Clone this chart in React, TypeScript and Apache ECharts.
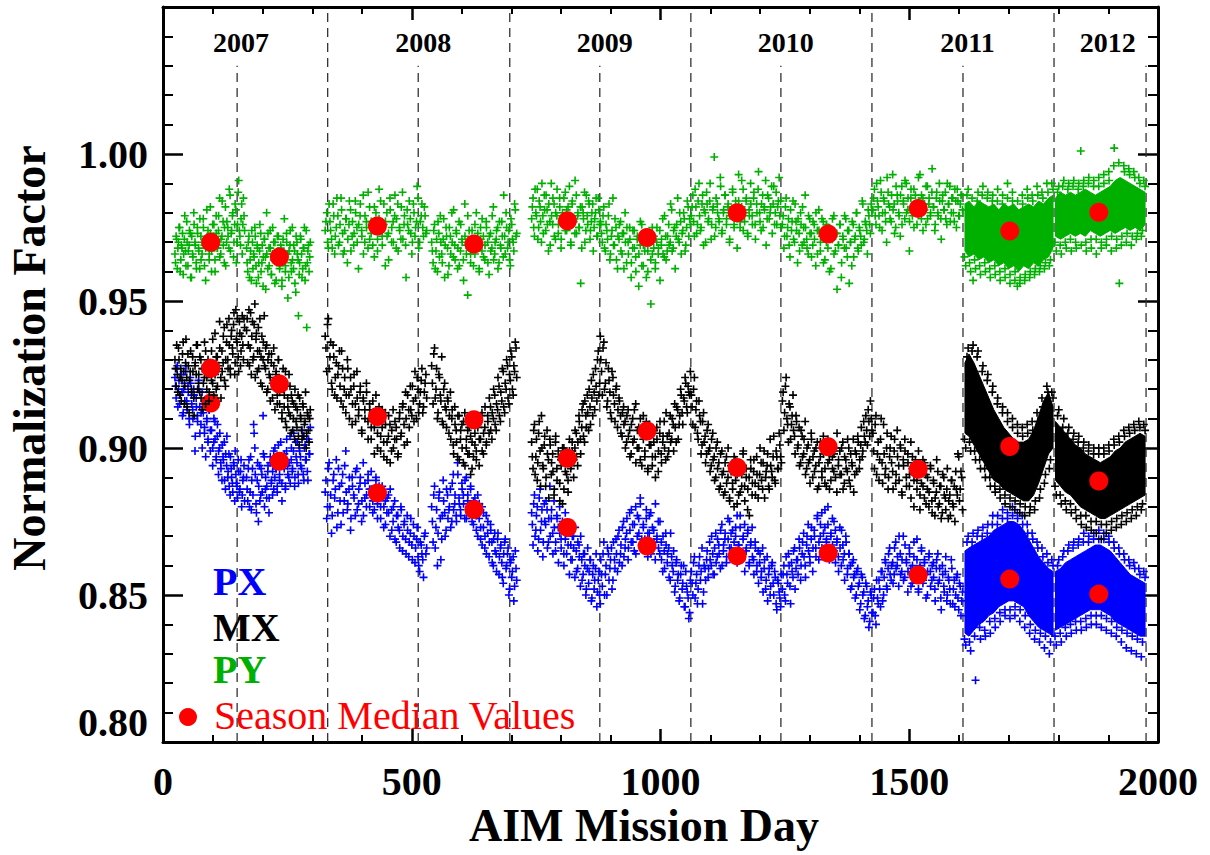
import React, { useEffect, useRef } from "react";
import * as echarts from "echarts";

const FONT = "'Liberation Serif', 'Times New Roman', Times, serif";

// Observation seasons, as AIM mission-day ranges
const seasonSpans: [number, number][] = [
  [24, 164], [168, 296], [326, 530], [540, 711], [741, 879], [880, 1060],
  [1062, 1243], [1245, 1425], [1427, 1607], [1611, 1789], [1793, 1974],
];

// Normalization factor samples per season (thousandths), evenly spread over each season.
// Two sample sets per series; the last two seasons hold the samples around the dense cores.
const pyValues: number[][] = [
  [966,972,961,970,975,964,968,959,971,967,977,962,969,973,958,966,980,970,963,975,968,961,972,966,978,969,957,971,974,964,982,967,970,976,960,973,968,979,965,971,984,969,975,962,977,972,988,967,974,980,970,983,963,976,991,972,978,966,985,974],
  [968,960,972,964,957,970,966,975,962,969,958,967,973,963,955,971,965,980,961,968,974,959,966,970,956,964,972,967,961,969,957,965,978,962,970,951,967,974,960,964,969,956,972,966,945,963,971,958,968,975,962,941,967,960,970],
  [974,980,968,977,971,983,966,975,979,970,985,973,967,978,963,976,981,972,969,984,975,961,979,974,986,970,977,968,982,973,976,965,980,971,988,974,969,983,977,972,964,981,975,970,986,978,967,974,982,971,979,958,976,984,973,970,980,975,989,968,977,983,972,979,974],
  [970,963,976,967,960,973,979,966,971,958,975,968,962,972,980,965,969,974,961,977,967,971,964,983,969,952,974,966,970,962,976,968,973,960,971,978,965,969,975,963,972,967,979,964,970,974,961,977,968,972,986,966,975,970,964,978,971,967,981,973],
  [978,985,972,980,988,975,982,970,979,986,974,981,967,977,990,976,983,971,979,973,985,968,980,976,987,974,982,978,969,984,977,991,973,980,975,956,982,978,970,986,976,983,974,980,967,978,985,972,981,977],
  [976,970,982,967,974,979,964,972,985,969,975,961,971,977,966,973,980,963,970,975,958,968,974,965,971,955,969,976,962,967,973,960,970,949,966,972,963,975,968,957,971,966,979,964,972,969,983,967,974,961,976,971,980,966,974,978,969,984,972,976],
  [979,986,972,982,976,990,974,983,969,980,987,977,984,971,981,999,975,983,978,992,973,980,986,976,982,970,979,988,975,981,968,984,977,991,974,980,985,972,979,983,976,987,971,980,994,977,983,975,981,969,986,978,982,973,989,980,976,984,979,975],
  [976,968,982,972,978,965,974,984,970,977,963,973,980,969,975,986,971,966,978,973,969,976,962,974,981,967,972,977,964,970,975,960,972,978,966,973,954,969,976,963,971,979,968,974,956,970,977,965,972,980,967,974,969,983,971,976,966,979,973,981],
  [981,988,976,984,979,991,974,985,980,970,987,982,977,993,983,975,986,980,972,989,984,978,990,981,967,985,979,988,983,976,992,981,986,974,983,989,978,985,980,995,982,976,987,979,984,971,986,981,978,990,983,977,985,980,988,975,984,979,986,981],
  [965,986,963,985,964,984,962,986,963,985,961,984,962,984,960,983,961,985,959,984,960,984,958,983,959,985,960,984,961,986,962,985,963,987,964,988],
  [970,987,969,989,970,988,971,989,970,988,1001,989,970,990,971,989,971,989,970,990,971,991,972,1002,971,956,972,994,973,993,972,992,973,990,974,989],
];
const pyValuesB: number[][] = [
  [963,971,968,975,960,969,973,966,979,962,970,967,974,958,972,965,976,969,961,973,967,978,964,970,975,962,968,981,971,966,973,960,976,970,964,979,968,974,985,966,972,977,963,982,970,975,968,986,973,979,965,976,981,970,987,974,969,983,976,979],
  [963,970,958,967,974,961,965,972,956,968,963,976,960,969,965,971,954,966,973,962,968,959,975,964,970,957,966,972,962,968,955,971,964,960,973,966,958,969,963,975,961,967,953,970,964,959,972,966,961,968,957,974,963,969,965],
  [977,970,983,974,968,979,972,985,969,976,981,966,974,978,971,984,967,977,973,980,970,976,983,972,966,979,975,987,971,977,969,982,974,967,978,984,972,976,962,980,973,985,970,977,979,968,983,975,971,987,976,969,981,974,978,966,983,972,977,985,970,979,975,982,973],
  [967,974,961,971,977,965,970,963,978,969,972,959,975,966,970,981,964,973,968,962,976,970,957,972,966,979,968,963,974,971,966,980,969,961,975,967,972,964,977,970,959,973,968,982,966,971,975,963,969,977,965,972,980,968,974,962,976,970,983,972],
  [982,975,988,979,971,984,977,990,973,981,986,976,983,969,979,985,972,980,988,976,982,971,978,985,974,981,976,989,970,983,978,973,986,979,975,982,968,980,987,974,979,984,971,977,983,975,980,972,985,976],
  [973,979,968,976,971,983,966,974,969,978,964,972,976,967,973,961,970,975,966,971,963,974,968,960,972,966,977,962,969,973,958,967,971,964,975,968,961,970,966,974,969,978,965,972,967,976,970,981,968,975,972,985,970,977,973,980,967,975,982,978],
  [982,977,988,973,984,979,975,986,981,970,983,978,990,976,982,972,985,980,977,989,974,981,986,978,983,971,980,987,976,984,979,993,975,982,988,977,984,973,981,990,979,985,976,983,988,980,974,986,982,991,978,985,980,989,983,976,987,982,992,984],
  [979,972,985,975,969,981,977,971,983,974,978,967,976,982,970,975,968,979,973,965,977,971,980,966,974,970,978,963,972,976,968,974,961,971,979,967,973,969,976,958,972,968,978,965,974,970,962,976,971,980,968,975,972,984,970,977,974,981,976,983],
  [985,979,990,982,975,987,980,984,977,992,983,978,986,981,973,989,984,979,986,976,983,991,980,985,977,988,982,975,986,980,984,993,978,985,981,976,989,983,979,987,982,974,985,980,990,978,984,981,987,976,983,989,980,985,977,984,988,979,983,986],
  [962,988,960,957,961,987,959,989,960,987,958,986,959,988,957,986,958,990,956,987,957,955,956,986,957,988,958,986,959,989,960,987,961,990,962,990],
  [967,989,966,991,968,990,967,991,968,990,969,991,967,992,968,991,966,992,968,993,969,994,967,996,968,997,969,996,970,995,969,994,971,992,972,991],
];

const mxValues: number[][] = [
  [930,921,925,934,918,927,923,936,915,929,924,932,912,926,920,931,917,928,925,935,922,919,930,913,927,924,933,920,926,916,929,923,937,918,925,931,921,928,934,917,926,938,923,930,942,927,935,925,940,932,946,929,937,944,926,939,933,945,930,941],
  [940,929,947,934,925,943,931,949,937,926,941,933,922,938,930,945,927,935,920,932,924,929,917,934,921,926,915,930,919,923,912,927,918,909,921,914,925,911,918,906,915,920,909,913,904,917,910,903,914,908,919,905,911,902,913],
  [938,926,944,931,922,935,918,929,925,933,916,927,920,912,930,918,924,908,921,915,926,911,919,906,917,913,922,909,915,903,912,907,918,900,910,904,913,897,908,902,911,895,906,900,909,903,898,912,905,915,901,910,918,907,913,921,909,917,924,912,919,927,914,922,917],
  [928,915,934,920,910,925,918,931,908,922,913,917,905,919,910,901,914,906,897,911,903,908,895,912,900,906,898,904,893,909,901,896,907,903,911,899,905,914,902,909,917,906,912,920,908,915,924,911,919,927,914,922,930,917,925,933,920,928,936,924],
  [902,893,908,897,889,905,899,911,894,901,887,906,896,903,891,898,884,902,893,899,888,896,881,900,892,897,885,903,894,899,890,906,897,902,909,898,913,904,916,907,912,920,908,917,925,913,921,930,918,938],
  [930,918,936,922,914,927,919,910,924,915,920,907,917,911,904,914,909,902,913,906,898,910,903,915,900,907,896,905,911,899,904,893,908,901,897,906,890,903,899,909,895,904,900,912,897,905,902,910,899,907,914,903,911,918,908,916,922,912,919,926],
  [918,908,924,913,905,916,909,901,912,904,898,908,900,894,905,897,890,902,895,887,899,892,885,897,890,883,894,888,880,896,891,884,893,887,899,882,890,886,877,893,888,896,884,891,887,900,889,895,883,892,898,886,894,890,904,888,897,893,901,895],
  [916,906,921,910,902,914,908,918,904,911,900,907,895,904,898,909,893,901,896,905,890,899,894,902,887,897,892,904,888,899,895,886,901,893,898,890,905,896,891,900,886,897,893,903,889,898,894,885,899,892,902,896,907,899,904,911,901,909,916,906],
  [905,893,911,898,889,903,895,908,891,900,886,897,904,892,899,888,906,894,901,885,896,903,890,898,887,902,893,880,896,889,899,884,892,887,895,881,890,885,893,878,888,883,896,880,887,876,891,884,879,893,882,877,889,880,875,886,898,882,892,879],
  [903,931,902,933,899,931,896,926,893,923,890,919,887,915,886,912,884,909,883,907,882,905,881,904,880,905,880,906,882,909,886,914,891,919,896,917],
  [887,911,884,907,882,905,881,903,879,902,877,900,877,899,875,898,875,898,874,898,874,899,875,901,876,902,877,904,878,905,879,906,880,907,881,906],
];
const mxValuesB: number[][] = [
  [927,935,919,930,924,916,932,926,921,937,914,928,923,933,919,926,911,929,935,920,925,931,917,927,922,936,915,924,930,919,928,933,922,926,939,920,931,927,943,924,933,929,941,921,936,930,944,927,938,934,942,925,947,936,931,943,928,938,935,944],
  [944,935,928,946,938,930,942,924,939,933,927,944,931,921,936,928,934,919,930,925,916,932,922,928,913,925,918,930,915,922,910,920,914,926,907,917,912,921,905,916,910,903,914,907,918,901,911,906,915,904,909,900,912,906,910],
  [934,942,927,936,920,931,924,917,928,921,933,914,924,918,927,910,920,915,925,909,917,913,921,905,916,910,919,903,913,907,916,898,910,905,914,899,907,902,912,896,904,908,899,913,903,907,897,910,904,914,908,919,902,913,921,911,916,926,910,920,915,923,912,919,925],
  [922,932,917,927,912,924,916,909,920,914,907,916,911,903,913,898,908,902,911,896,906,900,909,894,903,898,907,891,902,897,905,899,908,894,903,912,898,907,901,911,905,914,903,910,918,906,913,921,909,916,926,912,920,928,915,923,931,918,926,934],
  [897,906,891,903,895,909,887,900,893,904,890,898,883,901,895,892,886,904,889,897,882,894,900,886,895,891,889,899,893,902,896,900,905,894,911,903,907,915,902,911,918,906,914,923,911,919,927,916,933,922],
  [926,934,920,929,916,923,912,926,918,909,921,913,916,905,912,908,900,911,904,897,908,902,913,895,906,900,910,894,903,897,909,892,901,906,894,902,897,907,892,905,898,902,909,896,904,899,911,903,908,915,902,913,908,920,912,917,924,914,921,918],
  [914,920,907,916,903,911,898,909,902,895,906,899,892,903,896,889,900,893,886,898,891,884,895,888,900,882,892,886,897,889,881,894,885,891,898,887,893,879,890,896,884,892,888,897,883,891,895,886,899,890,894,887,903,892,897,889,899,893,905,897],
  [919,912,924,908,915,903,911,906,898,909,901,894,906,897,903,891,900,895,888,903,897,892,900,886,895,902,890,898,893,887,903,896,889,897,892,900,885,894,899,891,902,888,896,892,900,887,895,903,891,898,904,893,901,897,909,902,906,913,904,910],
  [899,908,891,902,896,910,888,898,893,905,890,900,895,886,903,891,897,889,900,884,894,899,887,895,891,883,897,889,894,886,892,879,888,896,883,891,886,880,894,882,889,877,885,892,881,887,878,890,883,886,876,884,889,881,887,892,884,897,886,890],
  [900,934,899,935,896,933,893,928,890,925,887,921,885,917,883,914,881,912,880,910,879,908,878,907,877,908,878,909,879,912,883,917,888,921,893,919],
  [884,913,881,910,879,907,878,905,876,904,874,902,873,901,872,900,871,900,869,900,871,901,872,903,873,904,874,906,875,907,876,908,877,909,879,908],
];

const pxValues: number[][] = [
  [924,917,928,920,915,925,919,912,922,926,916,921,910,924,918,913,920,899,917,911,923,914,908,919,912,905,916,909,902,913,906,917,900,910,903,896,908,899,905,893,901,896,889,898,904,892,887,897,890,885,894,899,888,883,892,886,896,884,890,882],
  [890,882,896,885,879,893,908,900,881,889,875,894,884,891,911,897,886,883,892,878,895,888,884,899,890,893,885,901,889,896,882,894,898,887,903,891,895,888,900,893,905,890,897,902,888,899,894,906,891,900,896,903,889,898,907],
  [885,876,893,880,871,889,883,896,878,887,874,891,882,899,879,886,872,890,884,877,893,881,888,875,895,883,880,889,886,892,878,884,890,881,887,876,885,880,874,883,878,886,872,880,869,877,873,866,879,870,875,864,872,868,876,862,870,866,873,860,868,864,856,871,866],
  [880,868,887,873,860,883,876,869,889,878,872,884,879,886,875,891,881,877,895,883,879,888,884,876,890,882,878,886,880,874,883,877,870,881,873,867,878,870,864,875,868,872,861,869,865,858,871,863,867,856,864,869,860,866,852,862,858,848,865,855],
  [878,867,884,872,880,869,886,875,863,881,874,879,868,887,876,871,882,865,877,873,880,869,875,864,878,871,867,874,862,870,866,873,858,868,863,870,855,864,860,852,866,858,862,849,860,855,864,851,858,847],
  [862,853,868,857,850,864,859,866,855,862,869,858,872,864,860,875,866,871,862,878,868,874,865,880,870,876,883,869,874,866,879,871,877,864,873,868,881,870,866,875,862,870,859,867,864,856,871,860,865,853,862,857,849,860,854,846,858,851,842,855],
  [858,850,863,854,847,860,855,866,851,859,862,856,868,860,864,857,871,863,867,859,874,865,869,861,876,866,871,863,868,873,861,867,877,864,870,858,866,872,861,868,863,857,866,860,854,864,858,851,862,855,848,859,853,861,850,856,845,854,849,857],
  [852,860,848,857,864,853,861,856,866,859,862,869,855,864,871,860,867,874,863,869,858,872,866,876,862,870,878,865,873,868,880,864,871,867,875,861,869,858,866,872,862,855,868,859,864,852,861,856,849,858,853,845,857,850,842,854,846,839,851,844],
  [844,852,840,849,855,846,858,850,862,853,859,866,855,861,857,868,860,853,864,858,870,856,862,851,866,859,854,863,857,869,852,860,865,855,861,849,858,864,853,860,856,848,862,854,859,845,857,851,863,850,855,847,859,852,846,856,849,854,843,851],
  [835,868,834,868,836,870,839,870,838,871,841,874,842,874,844,876,845,876,845,877,846,876,845,874,843,871,840,869,838,866,837,863,836,861,834,860],
  [836,860,837,863,839,865,840,866,841,867,841,868,842,868,843,869,843,869,843,869,842,868,841,866,839,864,838,862,837,860,836,859,835,857,834,856],
];
const pxValuesB: number[][] = [
  [921,927,914,923,918,925,911,920,916,928,913,919,908,922,915,910,918,904,914,909,920,905,912,900,915,907,897,910,903,913,899,906,894,902,909,897,904,891,900,895,889,897,902,886,894,890,898,884,893,888,895,882,891,887,896,885,892,880,889,894],
  [886,893,880,897,889,884,905,891,878,895,887,882,893,885,898,880,890,887,894,883,897,889,892,886,900,893,887,896,891,902,888,897,893,886,899,894,890,904,896,892,899,887,902,895,891,900,897,893,904,889,901,896,892,903,898],
  [889,880,895,884,877,891,886,873,893,882,888,878,894,885,881,890,876,887,883,892,879,886,890,882,877,888,884,891,880,886,882,879,889,876,884,880,887,873,882,878,884,870,879,875,882,868,877,872,880,865,874,869,877,863,871,867,874,861,869,863,858,867,862,870,864],
  [875,884,866,879,871,885,862,877,882,870,886,876,880,873,888,879,884,875,891,881,877,886,881,889,876,884,880,887,875,882,879,872,884,876,869,880,873,866,877,871,863,874,868,860,871,864,869,857,866,861,854,868,859,864,850,861,856,863,853,859],
  [874,881,870,877,865,883,872,879,868,875,882,866,876,870,879,864,873,868,876,861,871,866,874,860,869,864,872,857,867,862,870,856,865,859,867,853,862,857,864,850,859,854,862,848,857,852,859,846,855,850],
  [857,864,850,860,866,855,862,852,868,859,864,870,861,867,873,863,869,876,866,872,879,868,874,864,877,871,881,867,873,869,876,863,871,878,866,872,862,869,875,864,868,858,865,871,861,866,855,863,858,851,861,855,848,857,852,860,846,853,849,844],
  [854,861,849,857,852,863,858,847,860,855,865,859,862,870,857,866,861,869,864,872,860,867,871,863,869,875,866,872,864,870,877,867,873,862,869,874,865,871,860,867,873,862,868,858,865,861,856,866,859,852,863,857,850,860,854,858,847,855,851,846],
  [857,850,863,854,860,847,858,865,852,862,857,866,860,868,863,856,870,865,861,873,866,870,863,877,868,874,866,871,879,869,874,862,870,876,865,872,868,863,873,860,867,864,870,857,864,860,853,862,857,850,859,854,847,856,851,843,853,848,841,850],
  [849,843,855,847,852,858,848,856,861,852,864,857,860,854,866,859,863,870,857,862,855,867,861,858,864,853,860,868,856,862,851,859,866,854,862,857,850,863,858,855,861,852,859,864,855,849,860,853,858,848,856,852,862,847,855,850,857,845,853,848],
  [833,870,831,871,821,872,835,873,836,874,837,877,839,877,841,879,843,878,842,880,843,878,841,877,839,874,837,871,835,868,834,866,832,864,830,862],
  [833,862,834,865,836,867,837,868,838,869,838,871,839,870,840,871,840,872,839,871,838,870,837,868,836,866,834,864,832,862,831,861,830,859,829,858],
];

// Dense cores of the 2011 and 2012 seasons (lower / upper edge, thousandths)
const denseKnots: number[][] = [
  [1612,1620,1630,1640,1650,1660,1670,1680,1690,1700,1710,1720,1730,1740,1750,1760,1770,1780,1789],
  [1794,1804,1814,1824,1834,1844,1854,1864,1874,1884,1894,1904,1914,1924,1934,1944,1954,1964,1974],
];
const pyBandLo = [
  [967,965,966,964,965,963,964,962,963,961,962,960,962,961,963,962,964,965,968],
  [972,971,972,973,972,973,972,974,973,972,973,974,973,974,975,974,975,974,976],
];
const pyBandHi = [
  [983,984,982,984,983,982,983,981,983,982,983,981,982,983,982,984,983,985,986],
  [985,987,986,987,986,987,988,987,986,987,988,989,991,992,991,990,989,988,987],
];
const mxBandLo = [
  [905,904,901,898,895,892,889,888,886,885,884,883,882,882,884,888,893,898,900],
  [889,887,885,884,882,880,879,878,877,876,876,877,878,879,880,881,882,883,884],
];
const mxBandHi = [
  [929,932,929,925,921,917,913,910,907,905,903,902,902,903,906,911,916,919,914],
  [909,907,905,903,901,900,898,897,896,895,896,897,899,900,902,903,904,905,904],
];
const pxBandLo = [
  [837,836,838,840,841,843,844,846,847,848,848,847,846,843,841,839,838,837,836],
  [838,839,840,841,842,843,844,845,845,845,844,843,841,840,839,838,837,836,836],
];
const pxBandHi = [
  [865,866,867,868,869,870,872,873,874,875,875,874,872,869,866,863,861,859,858],
  [858,859,861,862,863,864,865,866,867,867,866,865,863,861,859,857,856,855,854],
];

// Season median values
const medianDays = [96, 234, 431, 625, 813, 973, 1154, 1337, 1518, 1702, 1881];
const pyMedian = [0.970, 0.965, 0.9755, 0.9694, 0.9773, 0.9716, 0.980, 0.9728, 0.9815, 0.9738, 0.9802];
const mxMedian = [0.9271, 0.9218, 0.9107, 0.9096, 0.8965, 0.9058, 0.8934, 0.9004, 0.8928, 0.9005, 0.8888];
const pxMedian = [0.9153, 0.8955, 0.8847, 0.8791, 0.873, 0.8667, 0.8633, 0.8643, 0.8568, 0.8554, 0.8503];

// Year markers
const yearNames = ["2007", "2008", "2009", "2010", "2011", "2012"];
const yearLabelDays = [157, 523, 888, 1252, 1617, 1899];
const yearLabelLevel = 1.038;
const fullLineDays = [331, 697, 1061, 1425, 1791];
const shortLineDays = [149, 513, 878, 1242, 1608, 1976];
const shortLineTop = 1.03;

const Y_MIN = 0.8;
const Y_MAX = 1.05;

const BLUE = "#0000ff";
const BLACK = "#000000";
const GREEN = "#00b000";
const RED = "#ff0000";
const PLUS = "path://M2.8,0H4.2V2.8H7V4.2H4.2V7H2.8V4.2H0V2.8H2.8Z";

// Spread each season's samples evenly over its day range; the second set sits half a step later.
function toPoints(values: number[][], half: boolean): number[][] {
  const pts: number[][] = [];
  values.forEach((vals, s) => {
    const [d0, d1] = seasonSpans[s];
    const n = vals.length;
    vals.forEach((v, i) => {
      const day = half ? d0 + ((d1 - d0) * (i + 0.5)) / n : d0 + ((d1 - d0) * i) / (n - 1);
      pts.push([day, v / 1000]);
    });
  });
  return pts;
}

function bandSeries(lo: number[][], hi: number[][], color: string) {
  return {
    type: "custom",
    coordinateSystem: "cartesian2d",
    silent: true,
    clip: true,
    data: denseKnots.map((k, s) => [k[0], lo[s][0] / 1000, s]),
    encode: { x: 0, y: 1 },
    renderItem: (params: any, api: any) => {
      const s = params.dataIndex;
      const top = denseKnots[s].map((d, i) => api.coord([d, hi[s][i] / 1000]));
      const bottom = denseKnots[s].map((d, i) => api.coord([d, lo[s][i] / 1000])).reverse();
      return {
        type: "polygon",
        shape: { points: top.concat(bottom) },
        style: { fill: color, stroke: color, lineWidth: 1 },
      };
    },
  };
}

function cloudSeries(a: number[][], b: number[][], color: string) {
  return {
    type: "scatter",
    silent: true,
    symbol: PLUS,
    symbolSize: 8,
    itemStyle: { color, opacity: 1 },
    data: toPoints(a, false).concat(toPoints(b, true)),
  };
}

function medianSeries(values: number[]) {
  return {
    type: "scatter",
    silent: true,
    symbol: "circle",
    symbolSize: 19,
    itemStyle: { color: RED, opacity: 1 },
    data: medianDays.map((d, i) => [d, values[i]]),
  };
}

const axisLineStyle = { color: "#000", width: 3 };

function xAxisDef(position: "bottom" | "top") {
  return {
    type: "value",
    position,
    min: 0,
    max: 2000,
    interval: 500,
    axisLine: { show: true, onZero: false, lineStyle: axisLineStyle },
    axisTick: { show: true, inside: true, length: 13, lineStyle: { color: "#000", width: 2.5 } },
    minorTick: { show: true, splitNumber: 5, length: 7, lineStyle: { color: "#000", width: 2 } },
    splitLine: { show: false },
    minorSplitLine: { show: false },
    axisLabel: {
      show: position === "bottom",
      margin: 19,
      color: "#000",
      fontFamily: FONT,
      fontWeight: "bold",
      fontSize: 40,
      formatter: (v: number) => String(v),
    },
  };
}

function yAxisDef(position: "left" | "right") {
  return {
    type: "value",
    position,
    min: Y_MIN,
    max: Y_MAX,
    interval: 0.05,
    axisLine: { show: true, onZero: false, lineStyle: axisLineStyle },
    axisTick: { show: true, inside: true, length: 20, lineStyle: { color: "#000", width: 2.5 } },
    minorTick: { show: true, splitNumber: 5, length: 10, lineStyle: { color: "#000", width: 2 } },
    splitLine: { show: false },
    minorSplitLine: { show: false },
    axisLabel: {
      show: position === "left",
      margin: 15,
      color: "#000",
      fontFamily: FONT,
      fontWeight: "bold",
      fontSize: 40,
      verticalAlignMinLabel: "bottom",
      formatter: (v: number) => (v > 1.001 ? "" : v.toFixed(2)),
    },
  };
}

const dashedLineSeries = {
  type: "custom",
  coordinateSystem: "cartesian2d",
  silent: true,
  data: fullLineDays.map((d) => [d, Y_MAX]).concat(shortLineDays.map((d) => [d, shortLineTop])),
  encode: { x: 0, y: 1 },
  renderItem: (_params: any, api: any) => {
    const p1 = api.coord([api.value(0), Y_MIN]);
    const p2 = api.coord([api.value(0), api.value(1)]);
    return {
      type: "line",
      shape: { x1: p1[0], y1: p1[1], x2: p2[0], y2: p2[1] },
      style: { stroke: "#333", lineWidth: 1.3, lineDash: [9, 6] },
    };
  },
};

const yearLabelSeries = {
  type: "custom",
  coordinateSystem: "cartesian2d",
  silent: true,
  data: yearNames.map((_n, i) => [yearLabelDays[i], yearLabelLevel, i]),
  encode: { x: 0, y: 1 },
  renderItem: (params: any, api: any) => {
    const p = api.coord([api.value(0), api.value(1)]);
    return {
      type: "text",
      x: p[0],
      y: p[1],
      style: {
        text: yearNames[params.dataIndex],
        fill: "#000",
        font: `bold 28px ${FONT}`,
        align: "center",
        verticalAlign: "middle",
      },
    };
  },
};

const legendFont = `bold 40px ${FONT}`;

const option: any = {
  animation: false,
  backgroundColor: "#fff",
  grid: { left: 163, right: 52, top: 7, bottom: 113, containLabel: false },
  xAxis: [xAxisDef("bottom"), xAxisDef("top")],
  yAxis: [yAxisDef("left"), yAxisDef("right")],
  series: [
    dashedLineSeries,
    bandSeries(pxBandLo, pxBandHi, BLUE),
    cloudSeries(pxValues, pxValuesB, BLUE),
    medianSeries(pxMedian),
    bandSeries(mxBandLo, mxBandHi, BLACK),
    cloudSeries(mxValues, mxValuesB, BLACK),
    medianSeries(mxMedian),
    bandSeries(pyBandLo, pyBandHi, GREEN),
    cloudSeries(pyValues, pyValuesB, GREEN),
    medianSeries(pyMedian),
    yearLabelSeries,
  ],
  graphic: [
    { type: "text", x: 213, y: 581, style: { text: "PX", fill: BLUE, font: legendFont, align: "left", verticalAlign: "middle" } },
    { type: "text", x: 213, y: 627, style: { text: "MX", fill: BLACK, font: legendFont, align: "left", verticalAlign: "middle" } },
    { type: "text", x: 213, y: 669, style: { text: "PY", fill: GREEN, font: legendFont, align: "left", verticalAlign: "middle" } },
    { type: "circle", shape: { cx: 188, cy: 717, r: 9 }, style: { fill: RED } },
    { type: "text", x: 214, y: 715, style: { text: "Season Median Values", fill: RED, font: `40px ${FONT}`, align: "left", verticalAlign: "middle" } },
    { type: "text", x: 29, y: 358, rotation: Math.PI / 2, style: { text: "Normalization Factor", fill: "#000", font: `bold 46px ${FONT}`, align: "center", verticalAlign: "middle" } },
    { type: "text", x: 644, y: 825, style: { text: "AIM Mission Day", fill: "#000", font: `bold 46px ${FONT}`, align: "center", verticalAlign: "middle" } },
  ],
};

export default function App() {
  const ref = useRef<HTMLDivElement>(null);
  useEffect(() => {
    if (!ref.current) return;
    const chart = echarts.init(ref.current, undefined, { renderer: "svg" });
    chart.setOption(option);
    return () => chart.dispose();
  }, []);
  return (
    <div
      ref={ref}
      style={{ position: "fixed", left: 0, top: 0, width: 1210, height: 855, background: "#fff" }}
    />
  );
}
